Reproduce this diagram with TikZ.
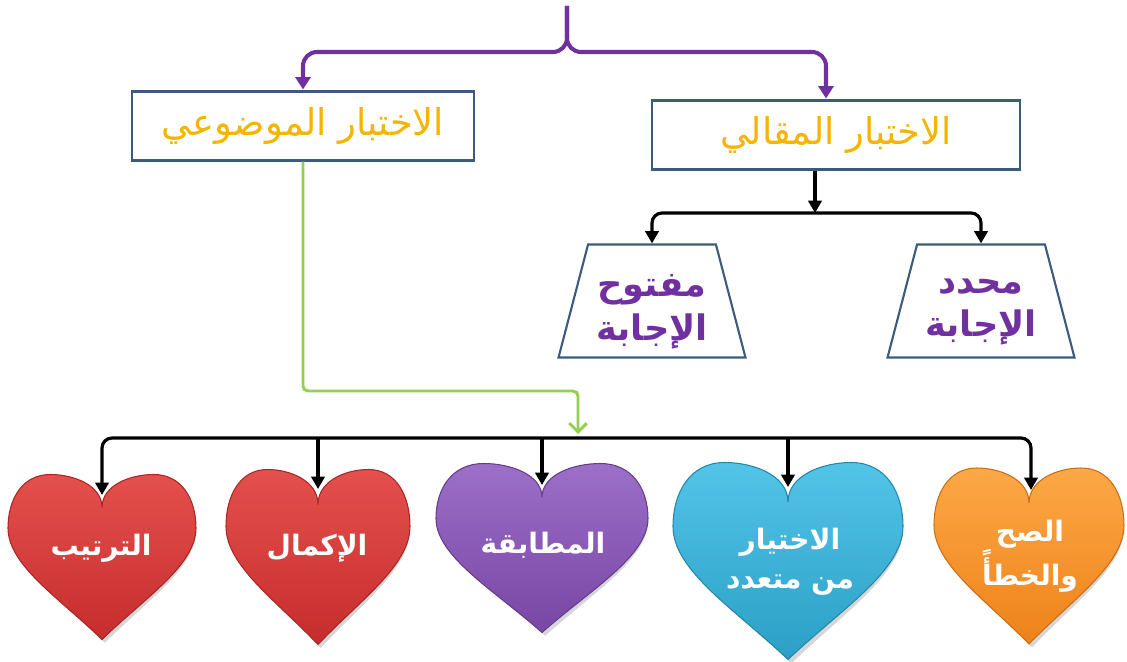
\documentclass[tikz,border=0pt]{standalone}
\usepackage{fontspec}
\newfontfamily\arabicfont[Script=Arabic]{DejaVu Sans}
\TeXXeTstate=1
\usetikzlibrary{arrows.meta,shapes.geometric,calc}
\definecolor{boxline}{HTML}{3C5A7C}
\definecolor{gold}{HTML}{F5B400}
\definecolor{purp}{HTML}{7030A0}
\definecolor{grn}{HTML}{92D050}
\definecolor{redT}{HTML}{E4504D}
\definecolor{redB}{HTML}{C62D2C}
\definecolor{purT}{HTML}{9C6FC8}
\definecolor{purB}{HTML}{7846A4}
\definecolor{bluT}{HTML}{52C4E8}
\definecolor{bluB}{HTML}{2C9FC6}
\definecolor{orgT}{HTML}{FCA846}
\definecolor{orgB}{HTML}{EE821A}
\newcommand\drawheart[6]{%
  \begin{scope}[shift={(#1,#2)},xscale=#3/2,yscale=#4/2]
    \fill[black,opacity=0.16] (0.03,-0.52) .. controls (0.03,-0.82) and (-0.27,-0.97) .. (-0.52,-0.97)
      .. controls (-0.82,-0.97) and (-0.97,-0.67) .. (-0.97,-0.32)
      .. controls (-0.97,0.13) and (-0.42,0.53) .. (0.03,1.04)
      .. controls (0.48,0.53) and (1.0,0.13) .. (1.0,-0.32)
      .. controls (1.0,-0.67) and (0.88,-0.97) .. (0.58,-0.97)
      .. controls (0.33,-0.97) and (0.03,-0.82) .. (0.03,-0.52) -- cycle;
    \path[draw=#6!85!black,line width=0.6pt,top color=#5,bottom color=#6]
      (0,-0.6) .. controls (0,-0.87) and (-0.3,-1) .. (-0.55,-1)
      .. controls (-0.85,-1) and (-1,-0.7) .. (-1,-0.35)
      .. controls (-1,0.1) and (-0.45,0.5) .. (0,1)
      .. controls (0.45,0.5) and (1,0.1) .. (1,-0.35)
      .. controls (1,-0.7) and (0.85,-1) .. (0.55,-1)
      .. controls (0.3,-1) and (0,-0.87) .. (0,-0.6) -- cycle;
  \end{scope}}
\begin{document}
\begin{tikzpicture}[x=0.02cm,y=-0.02cm,
  mainbox/.style={draw=boxline,line width=1.2pt,fill=white,minimum width=#1,minimum height=1.38cm,
    text=gold,font=\arabicfont\fontsize{21}{25}\selectfont},
  trapbox/.style={trapezium,trapezium left angle=77,trapezium right angle=77,trapezium stretches=true,
    draw=boxline,line width=1.2pt,minimum width=3.74cm,minimum height=2.26cm},
  traptext/.style={text=purp,align=center,font=\arabicfont\bfseries\fontsize{20}{25}\selectfont},
  hearttext/.style={text=white,align=center,font=\arabicfont\bfseries\fontsize{16}{22}\selectfont},
  purpline/.style={draw=purp,line width=2.3pt,-{Triangle[length=7pt,width=8.5pt]}},
  blkline/.style={draw=black,line width=1.8pt},
  blktip/.style={-{Triangle[length=7pt,width=7.5pt]}},
  grnline/.style={draw=grn,line width=1.7pt,-{Straight Barb[length=5pt,width=10pt]}}]
\useasboundingbox (0,0) rectangle (1127,662);

% boxes
\node[mainbox=6.84cm] (lbox) at (303,126) {\beginR الاختبار الموضوعي\endR};
\node[mainbox=7.36cm] (rbox) at (836,135) {\beginR الاختبار المقالي\endR};

% trapezoids
\node[trapbox] (tl) at (652,301) {};
\node[trapbox] (tr) at (981,301) {};
\node[traptext] (tlt) at (652,312) {\beginR مفتوح\endR\\\beginR الإجابة\endR};
\node[traptext] (trt) at (981,312) {\beginR محدد\endR\\\beginR الإجابة\endR};

% hearts
\drawheart{102}{557}{188}{165}{redT}{redB}
\drawheart{318}{557}{184}{175}{redT}{redB}
\drawheart{542}{548}{212}{169}{purT}{purB}
\drawheart{788}{561}{230}{197}{bluT}{bluB}
\drawheart{1029}{556}{190}{176}{orgT}{orgB}
\node[hearttext] (h1) at (101,548) {\beginR الترتيب\endR};
\node[hearttext] (h2) at (317,548) {\beginR الإكمال\endR};
\node[hearttext] (h3) at (543,545) {\beginR المطابقة\endR};
\node[hearttext] (h4) at (790,562) {\beginR الاختيار\endR\\\beginR من متعدد\endR};
\node[hearttext] (h5) at (1030,556) {\beginR الصح\endR\\\beginR والخطأً\endR};
\coordinate (c1) at (102,495);
\coordinate (c2) at (318,489);
\coordinate (c3) at (542,485);
\coordinate (c4) at (788,487);
\coordinate (c5) at (1031,490);

% purple brace
\coordinate (top) at (567,6);
\coordinate (bj) at (567,52);
\draw[purpline,rounded corners=0.28cm] (top) -- (bj) -| ($(lbox.north)+(0,-1)$);
\draw[purpline,rounded corners=0.28cm] (top) -- (bj) -| ($(rbox.north)+(-10,-1)$);

% black branch under right box
\coordinate (rj) at (815,213);
\draw[blkline,blktip] ($(rbox.south)+(-21,0)$) -- (rj);
\draw[blkline,blktip,rounded corners=0.2cm] (rj) -| (tl.north);
\draw[blkline,blktip,rounded corners=0.2cm] (rj) -| (tr.north);

% green connector
\coordinate (gk) at (578,391);
\coordinate (gj) at (578,434);
\draw[grnline,rounded corners=0.1cm] (lbox.south) |- (gk) -- (gj);

% black line to hearts
\coordinate (bl) at (567,438);
\draw[blkline,{Triangle[length=7pt,width=7.5pt]}-{Triangle[length=7pt,width=7.5pt]},rounded corners=0.2cm] (c1) |- (bl) -| (c5);
\draw[blkline,blktip] (c2 |- bl) -- (c2);
\draw[blkline,blktip] (c3 |- bl) -- (c3);
\draw[blkline,blktip] (c4 |- bl) -- (c4);
\end{tikzpicture}
\end{document}
